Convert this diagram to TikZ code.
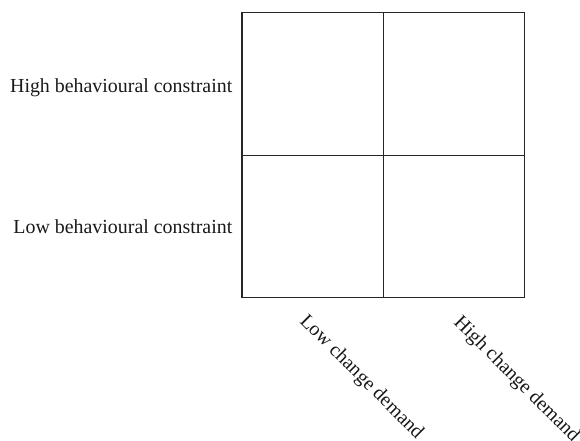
\documentclass[tikz,border=0pt]{standalone}
\usepackage{fontspec}
\setmainfont{Liberation Serif}
\begin{document}
\begin{tikzpicture}[x=1pt,y=-1pt,
  gridline/.style={line width=1.2pt,draw=black!85},
  axislabel/.style={inner sep=0pt,font=\fontsize{19.9}{23}\selectfont,text=black!90}]
\useasboundingbox (0,0) rectangle (580,440);
% 2x2 grid
\coordinate (nw) at (242,12.5);
\coordinate (se) at (524.5,297.5);
\coordinate (mt) at (383.3,12.5);
\coordinate (mb) at (383.3,297.5);
\coordinate (ml) at (242,155.5);
\coordinate (mr) at (524.5,155.5);
\draw[gridline] (nw) rectangle (se);
\draw[gridline] (mt) -- (mb);
\draw[gridline] (ml) -- (mr);
% row labels
\node[axislabel,anchor=base east] (hbc) at (232.5,92) {High behavioural constraint};
\node[axislabel,anchor=base east] (lbc) at (232.5,233) {Low behavioural constraint};
% column labels
\node[axislabel,anchor=base west,rotate=-45] (lcd) at (299,322) {Low change demand};
\node[axislabel,anchor=base west,rotate=-45] (hcd) at (453,323) {High change demand};
\end{tikzpicture}
\end{document}
